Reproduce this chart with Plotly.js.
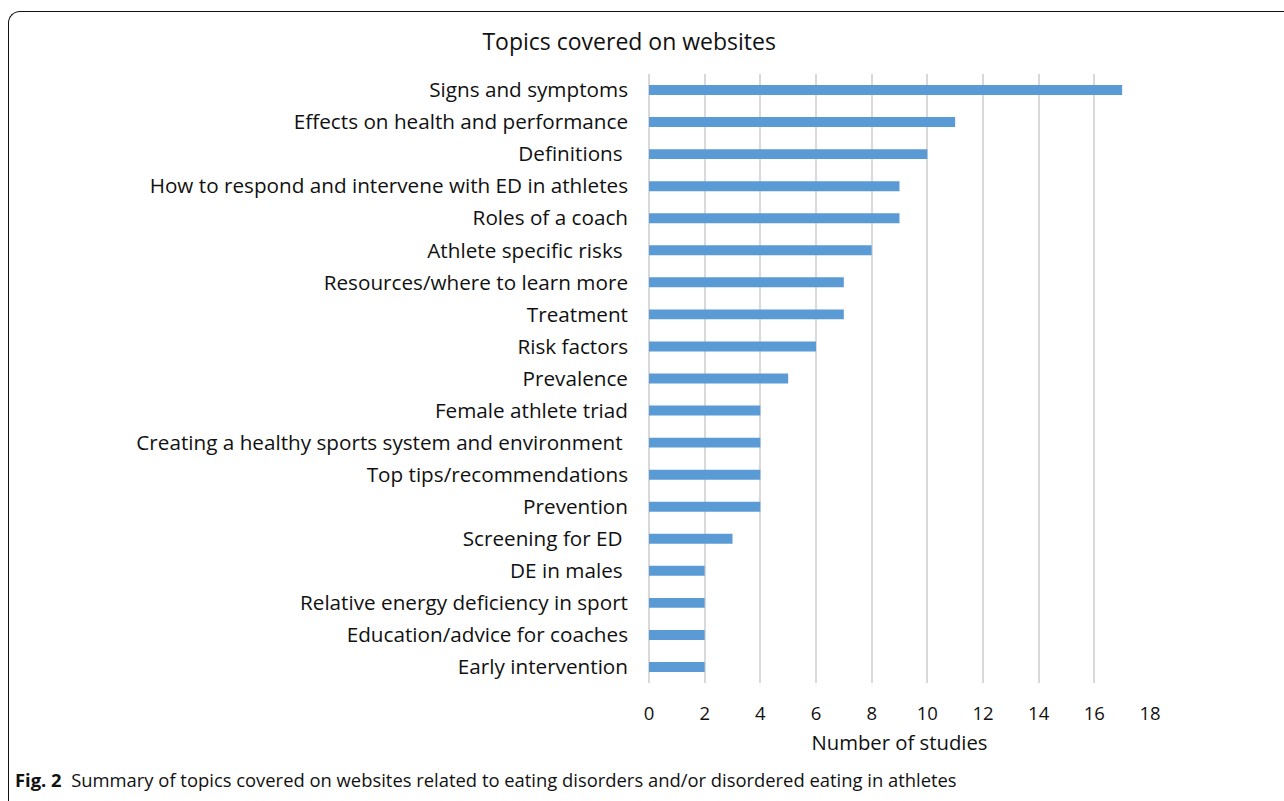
<!DOCTYPE html>
<html>
<head>
<meta charset="utf-8">
<script src="https://cdn.plot.ly/plotly-3.0.1.min.js"></script>
<style>
  html, body { margin: 0; padding: 0; background: #fff; overflow: hidden; }
  #frame { position: absolute; left: 8px; top: 11px; width: 1400px; height: 830px;
           border-left: 1.5px solid #111; border-top: 1.5px solid #111;
           border-top-left-radius: 12px; pointer-events: none; z-index: 5; }
  #chart { position: absolute; left: 0; top: 0; width: 1284px; height: 801px; }
</style>
</head>
<body>
<div id="chart"></div>
<div id="frame"></div>
<script>
const categories = [
  "Signs and symptoms",
  "Effects on health and performance",
  "Definitions\u00a0",
  "How to respond and intervene with ED in athletes",
  "Roles of a coach",
  "Athlete specific risks\u00a0",
  "Resources/where to learn more",
  "Treatment",
  "Risk factors",
  "Prevalence",
  "Female athlete triad",
  "Creating a healthy sports system and environment\u00a0",
  "Top tips/recommendations",
  "Prevention",
  "Screening for ED\u00a0",
  "DE in males\u00a0",
  "Relative energy deficiency in sport",
  "Education/advice for coaches",
  "Early intervention"
];
const studies = [17, 11, 10, 9, 9, 8, 7, 7, 6, 5, 4, 4, 4, 4, 3, 2, 2, 2, 2];
const xTicks = [0, 2, 4, 6, 8, 10, 12, 14, 16, 18];

const font = "Open Sans, Noto Sans, sans-serif";

const trace = {
  type: "bar",
  orientation: "h",
  x: studies,
  y: categories,
  marker: { color: "#5B9BD5" },
  hoverinfo: "x+y"
};

const layout = {
  width: 1284, height: 801,
  margin: { l: 649, r: 134, t: 74, b: 118 },
  paper_bgcolor: "#fff", plot_bgcolor: "#fff",
  bargap: 0.69,
  showlegend: false,
  font: { family: font, color: "#111" },
  title: {
    text: "Topics covered on websites",
    font: { family: font, size: 23, color: "#111" },
    xref: "container", x: 0.49, xanchor: "center",
    yref: "container", y: 1 - 42/801, yanchor: "middle"
  },
  xaxis: {
    range: [0, 18],
    tickvals: xTicks,
    ticktext: xTicks.map(String),
    showgrid: true, gridcolor: "#d9d9d9", gridwidth: 2,
    zeroline: true, zerolinecolor: "#d9d9d9", zerolinewidth: 2,
    showline: false, ticks: "",
    tickfont: { family: font, size: 18.5, color: "#111" },
    ticklabelstandoff: 17,
    title: { text: "Number of studies", font: { family: font, size: 20.3, color: "#111" }, standoff: 12 },
    fixedrange: true
  },
  yaxis: {
    type: "category",
    autorange: "reversed",
    showgrid: false, zeroline: false, showline: false, ticks: "",
    tickfont: { family: font, size: 20.7, color: "#111" },
    ticklabelstandoff: 20,
    fixedrange: true
  },
  annotations: [{
    xref: "paper", yref: "paper",
    x: (13 - 649) / 501, y: -(779 - 683) / 609,
    xanchor: "left", yanchor: "middle",
    showarrow: false,
    text: "<b>Fig. 2</b>  Summary of topics covered on websites related to eating disorders and/or disordered eating in athletes",
    font: { family: font, size: 18.4, color: "#111" }
  }]
};

Plotly.newPlot("chart", [trace], layout, { displayModeBar: false, staticPlot: true });
</script>
</body>
</html>
